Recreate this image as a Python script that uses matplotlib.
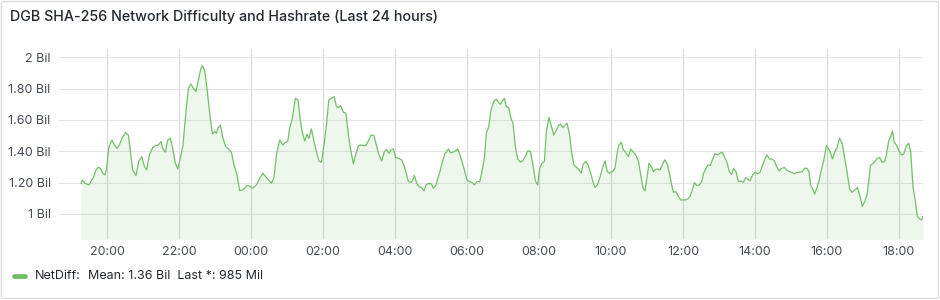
import numpy as np
import pandas as pd
import matplotlib
matplotlib.use("Agg")
import matplotlib.pyplot as plt
import matplotlib.dates as mdates
from matplotlib.patches import FancyBboxPatch

plt.rcParams['font.family'] = ['Inter', 'DejaVu Sans']

# hours after 20:00 on the first day, and network difficulty in billions
hours = [
    -0.722, -0.683, -0.611, -0.5, -0.425, -0.369, -0.306, -0.239, -0.183, -0.119, -0.056, -0.017,
    0.047, 0.094, 0.139, 0.206, 0.278, 0.344, 0.417, 0.511, 0.594, 0.65, 0.714, 0.806, 0.881, 0.964,
    1.039, 1.103, 1.178, 1.269, 1.344, 1.428, 1.5, 1.547, 1.622, 1.686, 1.761, 1.825, 1.9, 1.964,
    2.039, 2.111, 2.194, 2.261, 2.333, 2.4, 2.472, 2.539, 2.611, 2.65, 2.714, 2.778, 2.853, 2.928, 2.992,
    3.039, 3.083, 3.15, 3.222, 3.297, 3.361, 3.456, 3.528, 3.611, 3.686, 3.761, 3.825, 3.889, 3.964,
    4.028, 4.103, 4.167, 4.242, 4.333, 4.408, 4.492, 4.567, 4.639, 4.706, 4.797, 4.889, 4.956,
    5.019, 5.075, 5.15, 5.233, 5.306, 5.353, 5.417, 5.492, 5.556, 5.611, 5.678, 5.742, 5.817, 5.889, 5.956,
    6.033, 6.097, 6.161, 6.236, 6.311, 6.375, 6.439, 6.494, 6.567, 6.639, 6.706, 6.769, 6.844, 6.917, 6.983,
    7.056, 7.122, 7.186, 7.261, 7.333, 7.417, 7.492, 7.556, 7.631, 7.706, 7.769, 7.833, 7.889, 7.956,
    8.019, 8.111, 8.186, 8.261, 8.325, 8.372, 8.464, 8.539, 8.603, 8.667, 8.742, 8.806, 8.861, 8.928,
    9.0, 9.067, 9.131, 9.186, 9.25, 9.317, 9.389, 9.428, 9.483, 9.539, 9.611, 9.678, 9.742, 9.797, 9.861, 9.928,
    10.0, 10.075, 10.139, 10.206, 10.278, 10.353, 10.417, 10.483, 10.539, 10.603, 10.667, 10.742, 10.806,
    10.861, 10.928, 10.972, 11.039, 11.094, 11.158, 11.222, 11.278, 11.344, 11.408, 11.483, 11.547,
    11.622, 11.694, 11.761, 11.833, 11.9, 11.964, 12.019, 12.083, 12.15, 12.206, 12.278, 12.333, 12.408,
    12.472, 12.539, 12.594, 12.658, 12.714, 12.778, 12.853, 12.908, 12.972, 13.039, 13.111, 13.178,
    13.222, 13.297, 13.361, 13.436, 13.5, 13.556, 13.622, 13.686, 13.761, 13.833, 13.9, 13.964,
    14.039, 14.111, 14.178, 14.222, 14.289, 14.344, 14.408, 14.483, 14.547, 14.622, 14.686, 14.761,
    14.825, 14.889, 14.944, 15.011, 15.056, 15.122, 15.178, 15.242, 15.306, 15.361, 15.428, 15.492,
    15.567, 15.631, 15.686, 15.733, 15.797, 15.861, 15.936, 16.0, 16.075, 16.131, 16.194, 16.261,
    16.317, 16.381, 16.456, 16.519, 16.575, 16.639, 16.686, 16.761, 16.825, 16.889, 16.964, 17.028,
    17.094, 17.15, 17.214, 17.289, 17.353, 17.408, 17.472, 17.539, 17.611, 17.678, 17.742, 17.797,
    17.861, 17.936, 18.0, 18.075, 18.139, 18.214, 18.278, 18.333, 18.4, 18.464, 18.539, 18.603,
    18.667, 18.742, 18.817, 18.881, 18.944, 19.019, 19.094, 19.167, 19.242, 19.317, 19.372, 19.444,
    19.5, 19.547, 19.594, 19.658, 19.722, 19.778, 19.844, 19.908, 19.983, 20.047, 20.103, 20.15,
    20.214, 20.278, 20.353, 20.428, 20.492, 20.556, 20.631, 20.694, 20.769, 20.844, 20.908, 20.983,
    21.047, 21.111, 21.158, 21.206, 21.278, 21.344, 21.4, 21.464, 21.528, 21.603, 21.65, 21.714,
    21.761, 21.817, 21.861, 21.928, 22.0, 22.067, 22.131, 22.206, 22.269, 22.325, 22.389, 22.456,
    22.511, 22.575, 22.631, 22.667,
]
net_diff = [
    1.196, 1.215, 1.196, 1.185, 1.217, 1.236, 1.281, 1.298, 1.291, 1.26, 1.249, 1.28,
    1.419, 1.451, 1.472, 1.44, 1.419, 1.44, 1.483, 1.519, 1.504, 1.398, 1.281, 1.245, 1.334, 1.366,
    1.302, 1.281, 1.377, 1.423, 1.436, 1.44, 1.462, 1.419, 1.394, 1.472, 1.483, 1.419, 1.323, 1.287,
    1.355, 1.44, 1.653, 1.802, 1.83, 1.802, 1.781, 1.855, 1.93, 1.947, 1.913, 1.802, 1.643, 1.511, 1.526,
    1.515, 1.547, 1.568, 1.483, 1.43, 1.419, 1.394, 1.313, 1.249, 1.149, 1.153, 1.164, 1.181, 1.179,
    1.164, 1.174, 1.191, 1.228, 1.26, 1.238, 1.217, 1.196, 1.232, 1.377, 1.472, 1.44, 1.457,
    1.462, 1.547, 1.611, 1.738, 1.728, 1.632, 1.526, 1.466, 1.509, 1.483, 1.543, 1.472, 1.398, 1.338, 1.33,
    1.451, 1.568, 1.728, 1.738, 1.749, 1.685, 1.679, 1.691, 1.649, 1.643, 1.504, 1.409, 1.319, 1.387, 1.436,
    1.44, 1.436, 1.436, 1.466, 1.504, 1.5, 1.43, 1.377, 1.338, 1.398, 1.413, 1.387, 1.409, 1.415,
    1.36, 1.355, 1.345, 1.302, 1.249, 1.206, 1.202, 1.245, 1.196, 1.174, 1.168, 1.147, 1.185, 1.194,
    1.194, 1.164, 1.179, 1.223, 1.27, 1.334, 1.387, 1.394, 1.415, 1.391, 1.394, 1.402, 1.415, 1.381, 1.334, 1.281,
    1.217, 1.206, 1.202, 1.185, 1.206, 1.206, 1.27, 1.355, 1.515, 1.557, 1.664, 1.717, 1.732,
    1.717, 1.7, 1.717, 1.738, 1.685, 1.679, 1.611, 1.579, 1.43, 1.351, 1.33, 1.338,
    1.366, 1.404, 1.398, 1.313, 1.211, 1.185, 1.291, 1.323, 1.334, 1.526, 1.617, 1.568, 1.504,
    1.53, 1.564, 1.575, 1.551, 1.564, 1.579, 1.504, 1.387, 1.309, 1.3, 1.281, 1.26,
    1.317, 1.334, 1.313, 1.26, 1.206, 1.17, 1.185, 1.228, 1.291, 1.338, 1.27, 1.26,
    1.27, 1.291, 1.398, 1.44, 1.457, 1.409, 1.394, 1.366, 1.415, 1.394, 1.377, 1.338,
    1.249, 1.164, 1.147, 1.249, 1.323, 1.302, 1.27, 1.285, 1.287, 1.281, 1.313, 1.345,
    1.317, 1.249, 1.185, 1.138, 1.143, 1.117, 1.089, 1.089, 1.089, 1.096, 1.111, 1.153,
    1.2, 1.181, 1.185, 1.206, 1.26, 1.291, 1.313, 1.309, 1.351, 1.385, 1.377, 1.387,
    1.394, 1.366, 1.334, 1.27, 1.253, 1.291, 1.27, 1.206, 1.211, 1.202, 1.232, 1.223,
    1.211, 1.249, 1.266, 1.257, 1.266, 1.313, 1.351, 1.377, 1.351, 1.351, 1.338, 1.302,
    1.274, 1.291, 1.296, 1.281, 1.27, 1.266, 1.257, 1.266, 1.266, 1.27, 1.291, 1.291,
    1.27, 1.185, 1.164, 1.126, 1.168, 1.211, 1.281, 1.338, 1.436, 1.415, 1.387, 1.351,
    1.394, 1.423, 1.483, 1.445, 1.355, 1.27, 1.157, 1.138, 1.153, 1.168, 1.121, 1.047,
    1.079, 1.121, 1.206, 1.309, 1.323, 1.338, 1.355, 1.36, 1.33, 1.334, 1.377, 1.466,
    1.487, 1.53, 1.462, 1.44, 1.402, 1.377, 1.381, 1.436, 1.451, 1.398, 1.174, 1.079,
    0.983, 0.968, 0.962, 0.983,
]

y_ticks = [1.0, 1.2, 1.4, 1.6, 1.8, 2.0]
y_tick_labels = ['1 Bil', '1.20 Bil', '1.40 Bil', '1.60 Bil', '1.80 Bil', '2 Bil']
title = 'DGB SHA-256 Network Difficulty and Hashrate (Last 24 hours)'
series_name = 'NetDiff:'
legend_stats = 'Mean: 1.36 Bil  Last *: 985 Mil'

green = '#73BF69'
text_col = '#24292E'
tick_col = '#464C54'

base = pd.Timestamp('2024-01-01 20:00')
times = base + pd.to_timedelta(np.array(hours), unit='h')
end = times[-1]
start = end - pd.Timedelta(hours=24)

fig = plt.figure(figsize=(9.4, 3.0), dpi=100)
fig.patch.set_facecolor('white')

# panel border
fig.patches.append(FancyBboxPatch((1.5 / 940, 1.5 / 300), 1 - 3 / 940, 1 - 3 / 300,
                                  boxstyle='round,pad=0,rounding_size=0.004',
                                  transform=fig.transFigure, facecolor='none',
                                  edgecolor='#DCDCDC', linewidth=1.0))

fig.text(10 / 940, 1 - 17 / 300, title, fontsize=10.3, color=text_col,
         fontweight='medium', va='center', ha='left')

ax = fig.add_axes([59 / 940, 1 - 239 / 300, (923 - 59) / 940, (239 - 49) / 300])
ax.plot(times, net_diff, color=green, linewidth=0.9)
ax.fill_between(times, net_diff, 0.5, color=green, alpha=0.12, linewidth=0)

ax.set_xlim(start, end)
ax.set_ylim(0.840, 2.053)
ax.set_yticks(y_ticks)
ax.set_yticklabels(y_tick_labels)
ax.xaxis.set_major_locator(mdates.HourLocator(byhour=range(0, 24, 2)))
ax.xaxis.set_major_formatter(mdates.DateFormatter('%H:%M'))

for s in ax.spines.values():
    s.set_visible(False)
ax.tick_params(axis='both', length=0, labelsize=9, colors=tick_col)
ax.tick_params(axis='y', pad=6)
ax.tick_params(axis='x', pad=5)
ax.grid(True, axis='y', color='#E4E4E4', linewidth=0.8)
ax.grid(True, axis='x', color='#DADADA', linewidth=0.8)
ax.set_axisbelow(True)

# legend
fig.lines.append(plt.Line2D([14 / 940, 25 / 940], [1 - 276 / 300] * 2, transform=fig.transFigure,
                            color=green, linewidth=3.5, solid_capstyle='round'))
fig.text(35 / 940, 1 - 276 / 300, series_name, fontsize=9, color=text_col, va='center', ha='left')
fig.text(88 / 940, 1 - 276 / 300, legend_stats, fontsize=9, color=text_col, va='center', ha='left')

fig.savefig('out.png', dpi=100)
